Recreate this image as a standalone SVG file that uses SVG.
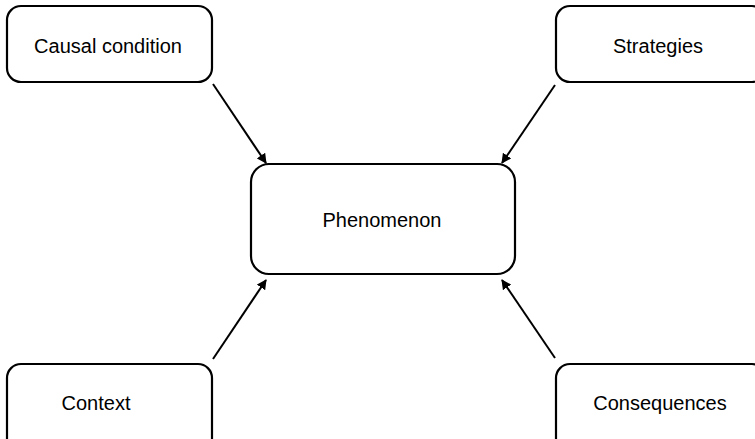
<svg xmlns="http://www.w3.org/2000/svg" width="755" height="439" viewBox="0 0 755 439">
<style>
.box{fill:#fff;stroke:#000;stroke-width:2.2}
.lbl{font-family:"Liberation Sans",Arial,sans-serif;font-size:20px;fill:#000;text-anchor:middle}
.conn{stroke:#000;stroke-width:2;fill:none;marker-end:url(#ah)}
</style>
<defs>
<marker id="ah" viewBox="0 0 10 10" refX="9" refY="5" markerWidth="5" markerHeight="5" orient="auto" markerUnits="strokeWidth">
<path d="M0,0 L10,5 L0,10 z" fill="#000"/>
</marker>
</defs>
<rect width="755" height="439" fill="#fff"/>
<g id="causal"><rect class="box" x="7" y="6" width="205" height="76" rx="14"/><text class="lbl" x="108" y="53">Causal condition</text></g>
<g id="strategies"><rect class="box" x="556" y="6" width="210" height="76" rx="14"/><text class="lbl" x="658" y="53">Strategies</text></g>
<g id="phenomenon"><rect class="box" x="251" y="164" width="264" height="110" rx="18"/><text class="lbl" x="382" y="227">Phenomenon</text></g>
<g id="context"><rect class="box" x="7" y="364" width="205" height="90" rx="14"/><text class="lbl" x="96" y="410">Context</text></g>
<g id="consequences"><rect class="box" x="556" y="364" width="210" height="90" rx="14"/><text class="lbl" x="660" y="410">Consequences</text></g>
<g id="connectors">
<line class="conn" x1="213" y1="84" x2="266" y2="163"/>
<line class="conn" x1="555" y1="85" x2="502" y2="163"/>
<line class="conn" x1="213" y1="359" x2="266" y2="280"/>
<line class="conn" x1="555" y1="358" x2="502" y2="280"/>
</g>
</svg>
